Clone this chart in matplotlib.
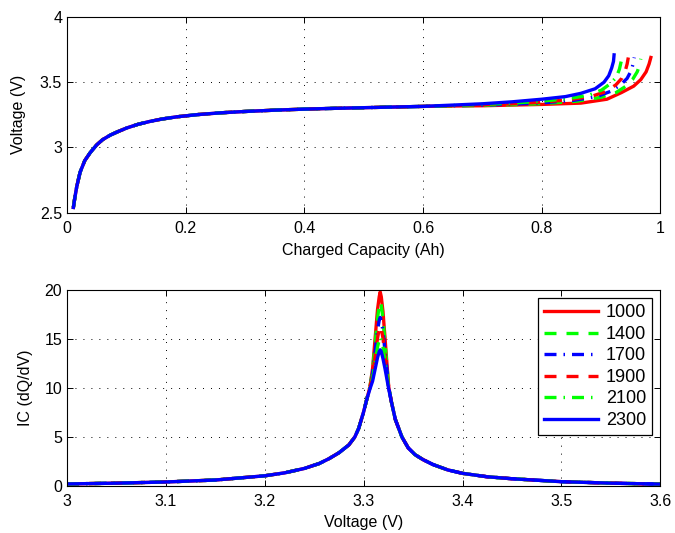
import matplotlib
matplotlib.use("Agg")
import matplotlib.pyplot as plt

plt.rcParams["font.family"] = ["Liberation Sans", "DejaVu Sans"]

# cycle counts (legend)
cycles = ["1000", "1400", "1700", "1900", "2100", "2300"]
colors = ["#ff0000", "#00ff00", "#0000ff", "#ff0000", "#00ff00", "#0000ff"]
styles = ["solid", "dash", "dashdot", "dash", "dashdot", "solid"]

# --- top: charge curves, shared start (curves overlap up to ~0.6 Ah)
cap_common = [0.0107, 0.013, 0.0164, 0.022, 0.03, 0.039, 0.05, 0.06, 0.073, 0.085,
              0.101, 0.12, 0.14, 0.16, 0.185, 0.22, 0.26, 0.3, 0.35, 0.4,
              0.45, 0.5, 0.55, 0.6]
v_common = [2.54, 2.61, 2.70, 2.81, 2.90, 2.96, 3.02, 3.06, 3.095, 3.12,
            3.15, 3.178, 3.20, 3.218, 3.235, 3.252, 3.266, 3.276, 3.286, 3.294,
            3.30, 3.305, 3.31, 3.315]

# tails read per series
cap_tail = {
    "1000": [0.65, 0.7, 0.75, 0.8, 0.866, 0.91, 0.934, 0.955, 0.967, 0.976, 0.981, 0.984],
    "1400": [0.65, 0.7, 0.75, 0.8, 0.86, 0.9, 0.925, 0.942, 0.953, 0.961, 0.965, 0.967],
    "1700": [0.65, 0.7, 0.75, 0.8, 0.855, 0.893, 0.916, 0.933, 0.944, 0.951, 0.954, 0.956],
    "1900": [0.65, 0.7, 0.75, 0.8, 0.85, 0.886, 0.909, 0.925, 0.935, 0.941, 0.944, 0.946],
    "2100": [0.65, 0.7, 0.75, 0.8, 0.845, 0.879, 0.901, 0.916, 0.926, 0.931, 0.934, 0.936],
    "2300": [0.65, 0.7, 0.75, 0.8, 0.84, 0.866, 0.89, 0.905, 0.913, 0.918, 0.921, 0.922],
}
v_tail = {
    "1000": [3.318, 3.32, 3.325, 3.33, 3.34, 3.37, 3.42, 3.47, 3.52, 3.58, 3.64, 3.69],
    "1400": [3.319, 3.322, 3.328, 3.336, 3.355, 3.385, 3.42, 3.47, 3.52, 3.58, 3.63, 3.68],
    "1700": [3.32, 3.325, 3.332, 3.342, 3.362, 3.39, 3.43, 3.48, 3.53, 3.59, 3.64, 3.69],
    "1900": [3.321, 3.327, 3.335, 3.347, 3.368, 3.395, 3.43, 3.48, 3.53, 3.59, 3.64, 3.69],
    "2100": [3.322, 3.33, 3.34, 3.355, 3.375, 3.40, 3.44, 3.49, 3.54, 3.60, 3.66, 3.71],
    "2300": [3.325, 3.335, 3.35, 3.37, 3.39, 3.415, 3.45, 3.50, 3.55, 3.61, 3.66, 3.71],
}

# --- bottom: incremental capacity, shared flanks + per series peak
v_left = [3.00, 3.05, 3.10, 3.15, 3.20, 3.22, 3.24, 3.255, 3.265, 3.275,
          3.285, 3.291, 3.295, 3.30, 3.303]
ic_left = [0.22, 0.3, 0.42, 0.62, 1.05, 1.35, 1.8, 2.3, 2.8, 3.4,
           4.2, 5.0, 5.9, 7.6, 8.8]
v_right = [3.328, 3.332, 3.3387, 3.345, 3.352, 3.36, 3.37, 3.385, 3.40, 3.425,
           3.45, 3.50, 3.55, 3.60]
ic_right = [8.6, 6.8, 5.0, 3.9, 3.2, 2.7, 2.2, 1.65, 1.3, 0.95,
            0.75, 0.45, 0.3, 0.2]

v_peak = [3.3063, 3.309, 3.3115, 3.314, 3.3157, 3.3167, 3.3178, 3.3195, 3.3215, 3.3235, 3.3253]
ic_peak = {
    "1000": [10.1, 12.0, 15.0, 18.0, 19.3, 19.8, 19.3, 17.8, 15.2, 12.5, 10.1],
    "1400": [10.1, 11.8, 14.4, 17.1, 18.4, 18.8, 18.4, 17.1, 14.6, 12.3, 10.1],
    "1700": [10.1, 11.5, 13.6, 15.9, 16.9, 17.2, 16.9, 15.8, 13.8, 11.9, 10.1],
    "1900": [10.1, 11.3, 13.2, 15.1, 16.0, 16.3, 16.0, 15.1, 13.3, 11.6, 10.1],
    "2100": [10.0, 11.0, 12.6, 14.2, 14.9, 15.2, 14.9, 14.2, 12.7, 11.3, 10.0],
    "2300": [9.9, 10.7, 11.9, 13.1, 13.7, 13.9, 13.7, 13.0, 12.0, 10.9, 9.9],
}

dash_map = {"solid": "-", "dash": (0, (3.6, 3.0)), "dashdot": (0, (3.6, 2.1, 0.45, 2.1))}

fig = plt.figure(figsize=(6.75, 5.33), dpi=100)
ax1 = fig.add_axes([0.0993, 0.601, 0.879, 0.367])
ax2 = fig.add_axes([0.0993, 0.088, 0.879, 0.368])

for i, c in enumerate(cycles):
    ax1.plot(cap_common + cap_tail[c], v_common + v_tail[c], color=colors[i],
             linestyle=dash_map[styles[i]], linewidth=2.4, label=c)
    ax2.plot(v_left + v_peak + v_right, ic_left + ic_peak[c] + ic_right, color=colors[i],
             linestyle=dash_map[styles[i]], linewidth=2.4, label=c)

ax1.set_xlim(0, 1)
ax1.set_ylim(2.5, 4)
ax1.set_xticks([0, 0.2, 0.4, 0.6, 0.8, 1])
ax1.set_xticklabels(["0", "0.2", "0.4", "0.6", "0.8", "1"])
ax1.set_yticks([2.5, 3, 3.5, 4])
ax1.set_yticklabels(["2.5", "3", "3.5", "4"])
ax1.set_xlabel("Charged Capacity (Ah)", fontsize=11.5, labelpad=5)
ax1.set_ylabel("Voltage (V)", fontsize=11.5, labelpad=10)

ax2.set_xlim(3, 3.6)
ax2.set_ylim(0, 20)
ax2.set_xticks([3, 3.1, 3.2, 3.3, 3.4, 3.5, 3.6])
ax2.set_xticklabels(["3", "3.1", "3.2", "3.3", "3.4", "3.5", "3.6"])
ax2.set_yticks([0, 5, 10, 15, 20])
ax2.set_xlabel("Voltage (V)", fontsize=11.5, labelpad=4)
ax2.set_ylabel("IC (dQ/dV)", fontsize=11.5, labelpad=8)

for ax in (ax1, ax2):
    ax.grid(True, color="black", linestyle=(0, (1, 7.2)), linewidth=0.7)
    ax.tick_params(direction="in", top=True, right=True, labelsize=11.5, length=4, width=0.7)
    ax.tick_params(axis="x", pad=6)
    for s in ax.spines.values():
        s.set_linewidth(0.8)

leg = ax2.legend(loc="upper right", fontsize=13, handlelength=3.0, handletextpad=0.4,
                 fancybox=False, framealpha=1, edgecolor="black", borderpad=0.35,
                 labelspacing=0.25, borderaxespad=0, bbox_to_anchor=(0.9865, 0.959))
leg.get_frame().set_linewidth(0.9)

fig.savefig("out.png", dpi=100)
